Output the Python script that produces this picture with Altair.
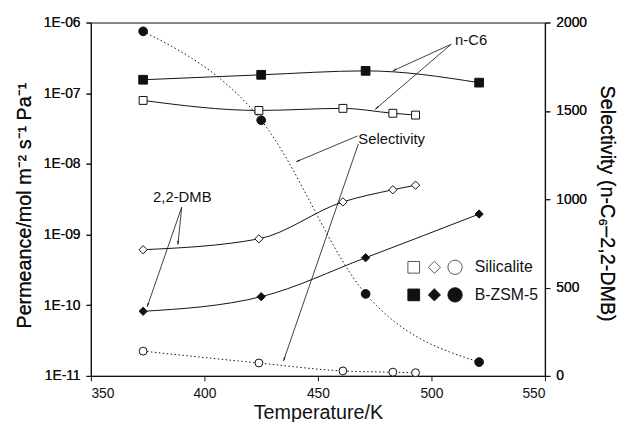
import math
import altair as alt
import pandas as pd

# ---------------- data ----------------
sil_T = [373, 424, 461, 483, 493]
sil_nc6 = [7.9e-8, 5.7e-8, 6.1e-8, 5.2e-8, 4.9e-8]
sil_dmb = [6.1e-10, 8.7e-10, 2.9e-9, 4.3e-9, 5.0e-9]
sil_sel = [140, 73, 28, 21, 18]

bz_T = [373, 425, 471, 521]
bz_nc6 = [1.55e-7, 1.82e-7, 2.07e-7, 1.41e-7]
bz_dmb = [8.2e-11, 1.32e-10, 4.7e-10, 1.95e-9]
bz_sel = [1950, 1447, 464, 78]

x_ticks = [350, 400, 450, 500, 550]
y_ticks = [1e-11, 1e-10, 1e-9, 1e-8, 1e-7, 1e-6]
s_ticks = [0, 500, 1000, 1500, 2000]

# annotations (data coordinates on the permeance axis)
ann_text = ["n-C6", "Selectivity", "2,2-DMB"]
ann_T = [510.4, 467.8, 377.4]
ann_P = [5.6e-7, 2.25e-8, 3.37e-9]

arr_T1 = [508.7, 508.7, 467.4, 467.8, 390.0, 390.0]
arr_P1 = [4.93e-7, 4.93e-7, 2.48e-8, 1.91e-8, 2.44e-9, 2.44e-9]
arr_T2 = [483.0, 475.2, 440.4, 434.8, 388.3, 374.8]
arr_P2 = [2.07e-7, 5.9e-8, 1.07e-8, 1.62e-11, 7.2e-10, 9.5e-11]

leg_sym_T = [492.2, 501.3, 510.4]
leg_shapes = ["square", "diamond", "circle"]
leg_sizes = [140, 150, 210]
leg_rows = ["Silicalite", "B-ZSM-5"]
leg_row_P = [3.44e-10, 1.40e-10]
leg_text_T = 519.1

# ---------------- layout ----------------
W, H = 460, 358
FONT = "Liberation Sans"
INK = "#111111"

xscale = alt.Scale(domain=[350, 550], nice=False, zero=False)
pscale = alt.Scale(type="log", domain=[1e-11, 1e-6], nice=False)
sscale = alt.Scale(domain=[0, 2000], nice=False, zero=False)

common = dict(grid=False, tickSize=5, labelPadding=6, labelFontSize=14, titleFontSize=20,
              labelFont=FONT, titleFont=FONT, titleFontWeight="normal",
              domainColor=INK, tickColor=INK, labelColor=INK, titleColor=INK,
              domainWidth=1.2)

xaxis = alt.Axis(values=x_ticks, title="Temperature/K",
                 titleX=W / 2, titleY=37, titleBaseline="middle", titleAlign="center", **common)

X = alt.X("T:Q", scale=xscale, axis=xaxis)

left_axis = alt.Axis(orient="left", values=y_ticks,
                     labelExpr="'1E-' + (-round(log(datum.value)/LN10) < 10 ? '0' : '') + (-round(log(datum.value)/LN10))",
                     title="Permeance/mol m⁻² s⁻¹ Pa⁻¹", titleAngle=270,
                     titleX=-67, titleY=H / 2 + 6, titleBaseline="middle", titleAlign="center",
                     **common)
right_axis = alt.Axis(orient="right", values=s_ticks, format="d",
                      title="Selectivity (n-C₆–2,2-DMB)", titleAngle=90,
                      titleX=62, titleY=H / 2 + 4, titleBaseline="middle", titleAlign="center",
                      **common)


def series(T, vals, shape, filled, dotted, size, right=False, axis=None):
    df = pd.DataFrame({"T": T, "V": vals})
    y = alt.Y("V:Q", scale=sscale if right else pscale, axis=axis)
    line_kw = dict(interpolate="monotone", color=INK, strokeWidth=1)
    if dotted:
        line_kw["strokeDash"] = [1.5, 2.5]
    line = alt.Chart(df).mark_line(**line_kw).encode(x=X, y=y)
    pt = alt.Chart(df).mark_point(shape=shape, filled=True, size=size,
                                  fill=INK if filled else "white", stroke=INK,
                                  strokeWidth=1, opacity=1).encode(x=X, y=y)
    return [line, pt]


layers = []
layers += series(bz_T, bz_nc6, "square", True, False, 78, axis=left_axis)
layers += series(sil_T, sil_nc6, "square", False, False, 64)
layers += series(sil_T, sil_dmb, "diamond", False, False, 70)
layers += series(bz_T, bz_dmb, "diamond", True, False, 70)
layers += series(bz_T, bz_sel, "circle", True, True, 78, right=True, axis=right_axis)
layers += series(sil_T, sil_sel, "circle", False, True, 64, right=True)

PY = alt.Y("P:Q", scale=pscale, axis=None)

# annotation texts
ann_df = pd.DataFrame({"T": ann_T, "P": ann_P, "txt": ann_text})
layers.append(alt.Chart(ann_df).mark_text(align="left", baseline="middle", font=FONT,
                                          fontSize=15, color=INK)
              .encode(x=X, y=PY, text="txt:N"))

# arrows
px_per_K = W / 200.0
px_per_dec = H / 5.0
angles = []
for t1, p1, t2, p2 in zip(arr_T1, arr_P1, arr_T2, arr_P2):
    dx = (t2 - t1) * px_per_K
    dy = -(math.log10(p2) - math.log10(p1)) * px_per_dec
    angles.append(math.degrees(math.atan2(dx, -dy)) % 360)
arr_df = pd.DataFrame({"T": arr_T1, "P": arr_P1, "T2": arr_T2, "P2": arr_P2, "ang": angles})
layers.append(alt.Chart(arr_df).mark_rule(color=INK, strokeWidth=0.8)
              .encode(x=X, y=PY, x2="T2:Q", y2="P2:Q"))
head_df = pd.DataFrame({"T": arr_T2, "P": arr_P2, "ang": angles})
layers.append(alt.Chart(head_df).mark_point(shape="M0,0L0.5,2.2L-0.5,2.2Z", filled=True,
                                            size=12, color=INK, opacity=1)
              .encode(x=X, y=PY, angle=alt.Angle("ang:Q", scale=None)))

# legend
for row_i, (row_name, row_p) in enumerate(zip(leg_rows, leg_row_P)):
    sym_df = pd.DataFrame({"T": leg_sym_T, "P": [row_p] * 3, "shape": leg_shapes, "sz": leg_sizes})
    filled = row_i == 1
    layers.append(alt.Chart(sym_df).mark_point(filled=True, fill=INK if filled else "white",
                                               stroke="#555555" if not filled else INK,
                                               strokeWidth=1, opacity=1)
                  .encode(x=X, y=PY, shape=alt.Shape("shape:N", scale=None),
                          size=alt.Size("sz:Q", scale=None)))
    txt_df = pd.DataFrame({"T": [leg_text_T], "P": [row_p], "txt": [row_name]})
    layers.append(alt.Chart(txt_df).mark_text(align="left", baseline="middle", font=FONT,
                                              fontSize=16, color=INK)
                  .encode(x=X, y=PY, text="txt:N"))

chart = (alt.layer(*layers)
         .resolve_scale(y="independent")
         .properties(width=W, height=H,
                     autosize=alt.AutoSizeParams(type="none"),
                     padding={"left": 84, "top": 12, "right": 74, "bottom": 44})
         .configure_view(stroke=INK, strokeWidth=1)
         .configure_axis(titleFontWeight="normal"))

chart.save("out.html", embed_options={"renderer": "svg", "actions": False})
